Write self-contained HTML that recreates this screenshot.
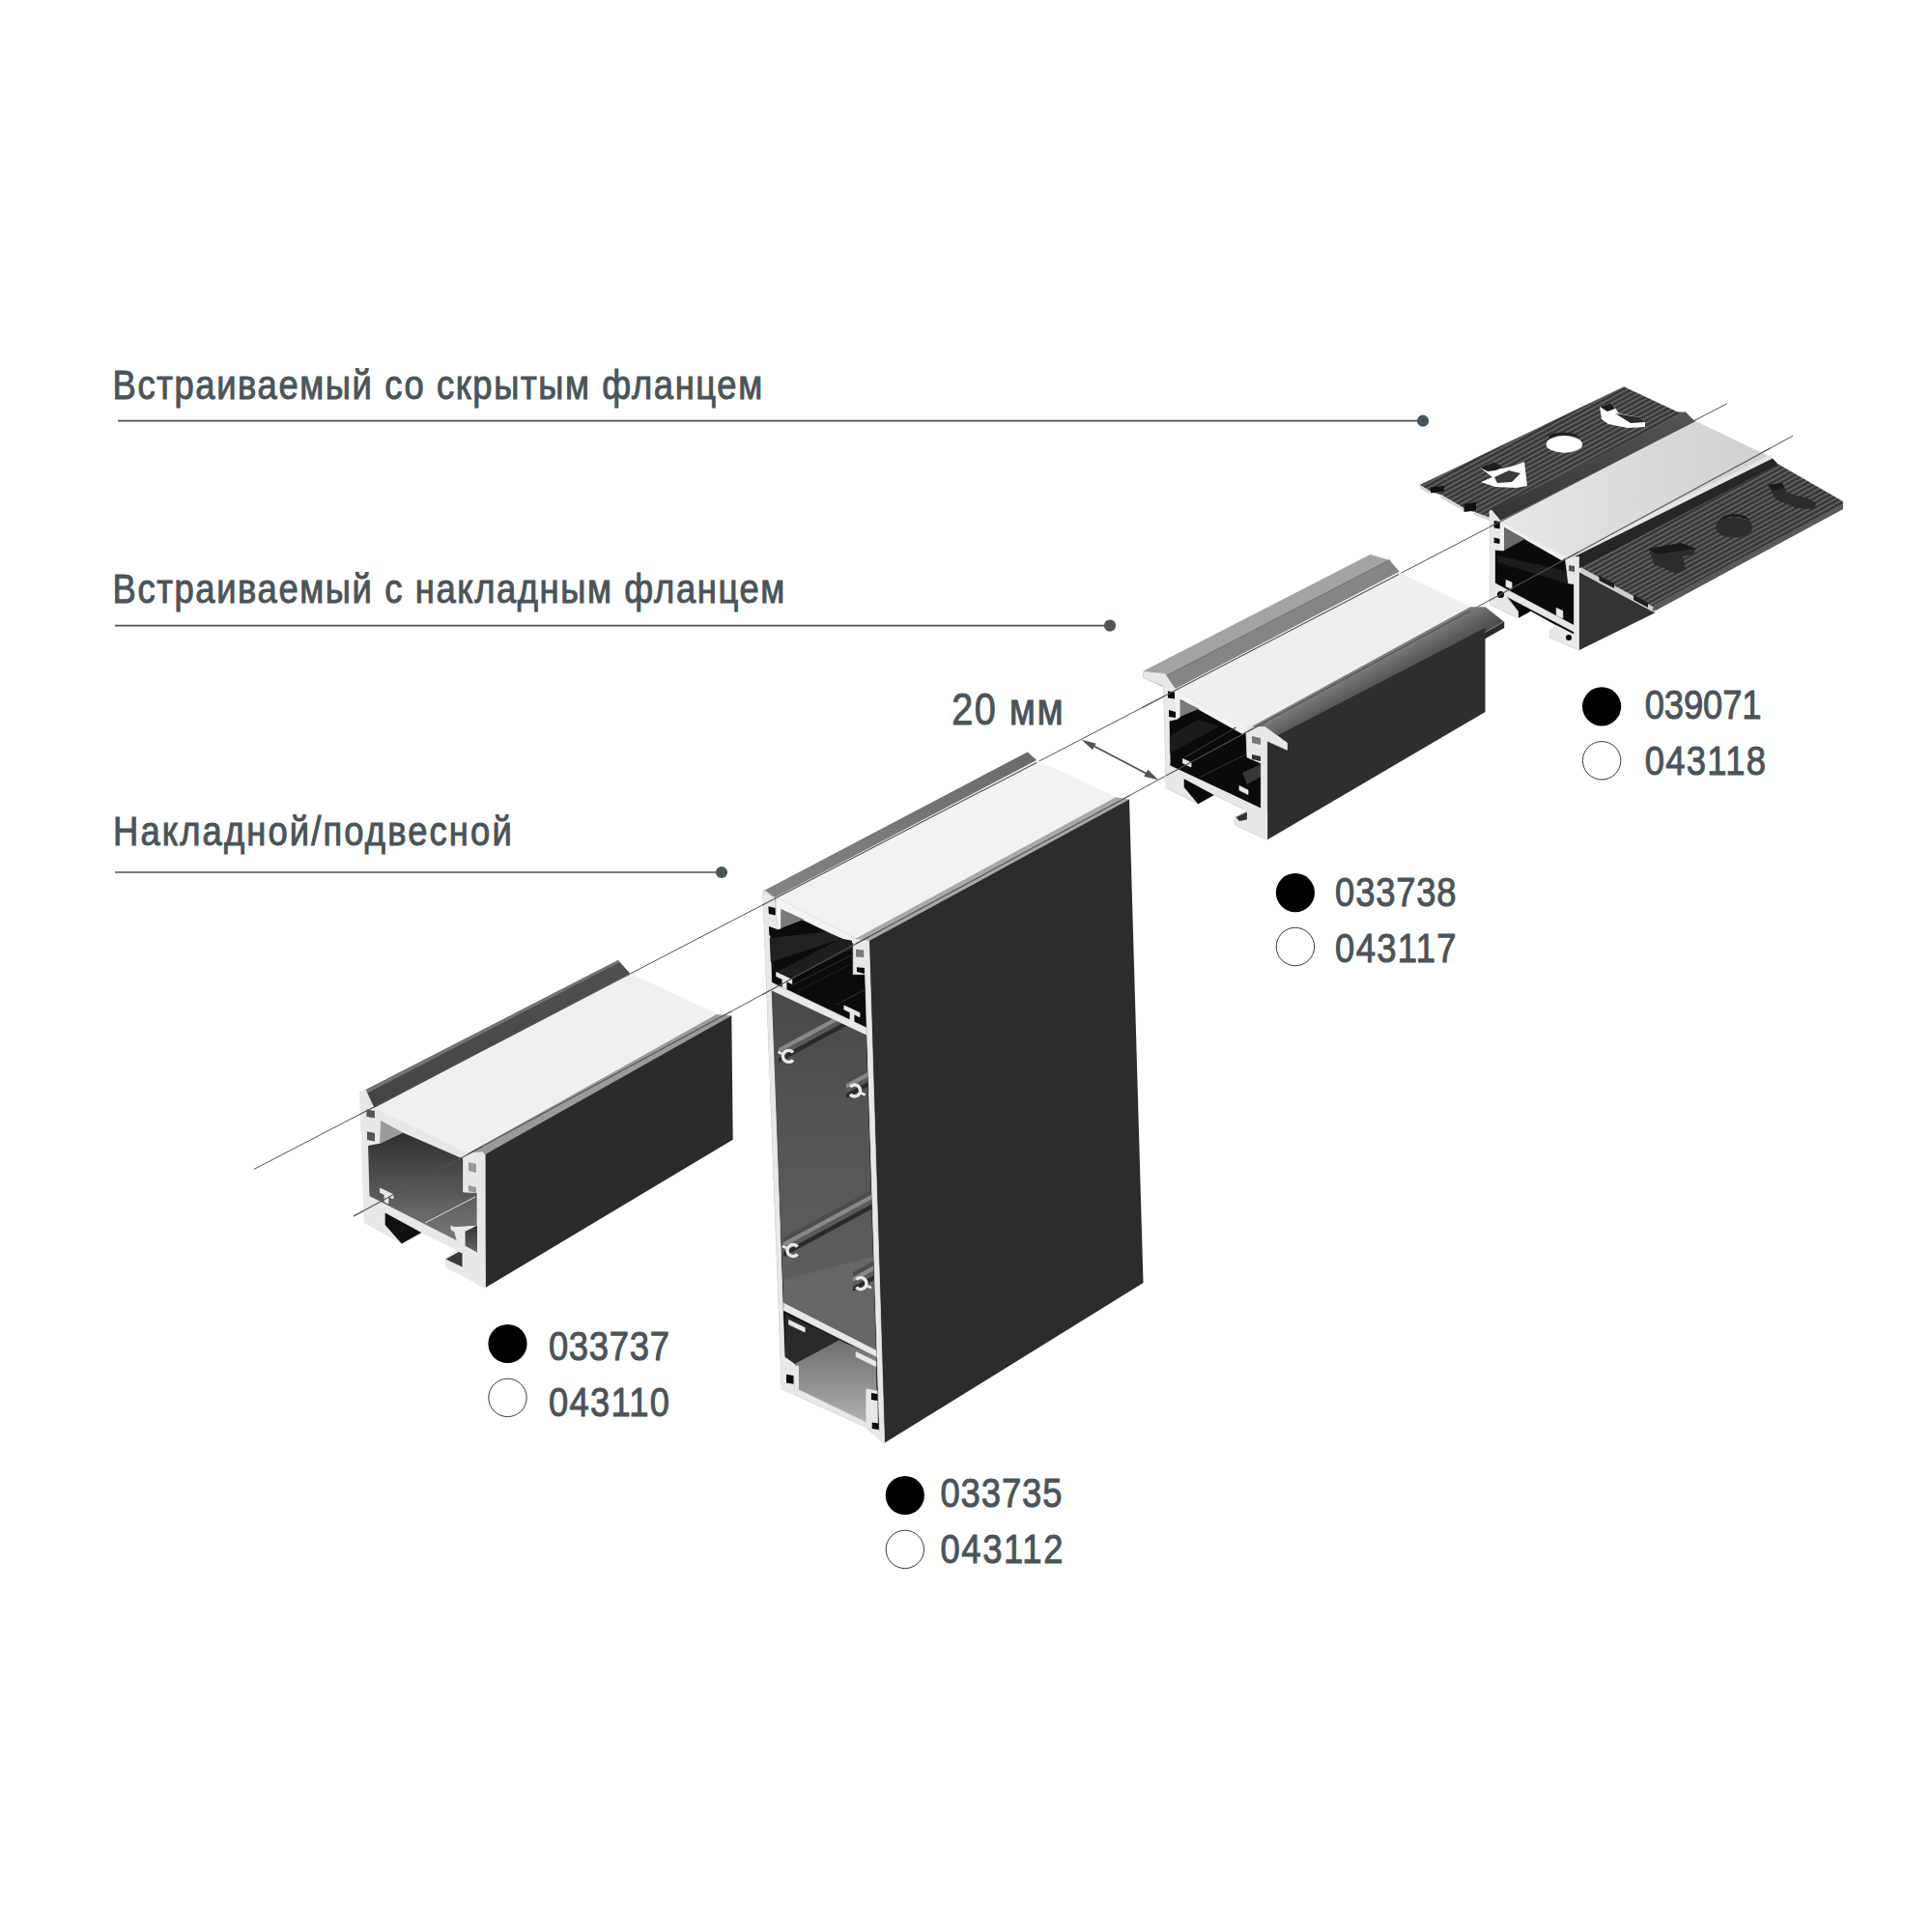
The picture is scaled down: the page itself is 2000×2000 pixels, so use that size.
<!DOCTYPE html>
<html><head><meta charset="utf-8">
<style>
html,body{margin:0;padding:0;background:#fff;}
body{width:2000px;height:2000px;overflow:hidden;position:relative;}
svg{position:absolute;left:0;top:0;}
text{font-family:"Liberation Sans",sans-serif;fill:#4b5459;stroke:#4b5459;stroke-width:1.0px;}
</style></head>
<body>
<svg width="2000" height="2000" viewBox="0 0 2000 2000">
<defs>
<linearGradient id="gFlange" x1="0" y1="0" x2="0" y2="1"><stop offset="0" stop-color="#6a6a6a"/><stop offset="1" stop-color="#848484"/></linearGradient>
<linearGradient id="gMid" x1="0" y1="0" x2="0" y2="1"><stop offset="0" stop-color="#484848"/><stop offset="0.3" stop-color="#525252"/><stop offset="1" stop-color="#626262"/></linearGradient>
<linearGradient id="gLow" x1="0" y1="0" x2="0" y2="1"><stop offset="0" stop-color="#1a1a1a"/><stop offset="0.45" stop-color="#444"/><stop offset="1" stop-color="#b4b4b4"/></linearGradient>
<linearGradient id="gGreyInt" x1="0" y1="0" x2="0" y2="1"><stop offset="0" stop-color="#2e2e2e"/><stop offset="0.5" stop-color="#555"/><stop offset="1" stop-color="#6a6a6a"/></linearGradient>
<linearGradient id="gFlangeM" x1="0" y1="0" x2="1" y2="0"><stop offset="0" stop-color="#9a9a9a"/><stop offset="1" stop-color="#5a5a5a"/></linearGradient>
<linearGradient id="gFlangeR" x1="0" y1="0" x2="1" y2="0"><stop offset="0" stop-color="#8a8a8a"/><stop offset="0.5" stop-color="#5a5a5a"/><stop offset="1" stop-color="#3a3a3a"/></linearGradient>
<linearGradient id="gDiffR" x1="0" y1="0" x2="1" y2="0"><stop offset="0" stop-color="#e6e6e6"/><stop offset="1" stop-color="#d0d0d0"/></linearGradient>
<linearGradient id="gCover" x1="0" y1="0" x2="0" y2="1"><stop offset="0" stop-color="#6e6e6e"/><stop offset="1" stop-color="#b0b0b0"/></linearGradient>
<linearGradient id="gFlangeL" x1="0" y1="0" x2="0" y2="1"><stop offset="0" stop-color="#505050"/><stop offset="1" stop-color="#444444"/></linearGradient>
<linearGradient id="gLip" x1="0" y1="0" x2="0" y2="1"><stop offset="0" stop-color="#555"/><stop offset="1" stop-color="#333"/></linearGradient>
<linearGradient id="gLipR" x1="0" y1="0" x2="0" y2="1"><stop offset="0" stop-color="#cfcfcf"/><stop offset="0.5" stop-color="#3a3a3a"/><stop offset="1" stop-color="#1a1a1a"/></linearGradient>
<linearGradient id="gFloor" x1="0" y1="0" x2="0" y2="1"><stop offset="0" stop-color="#5a5a5a"/><stop offset="1" stop-color="#7a7a7a"/></linearGradient>
<linearGradient id="gNotch" x1="0" y1="0" x2="0" y2="1"><stop offset="0" stop-color="#333"/><stop offset="1" stop-color="#666"/></linearGradient>
<linearGradient id="gFlangeR2" gradientUnits="userSpaceOnUse" x1="1400" y1="695" x2="1415.7" y2="723.4"><stop offset="0" stop-color="#808080"/><stop offset="0.6" stop-color="#5c5c5c"/><stop offset="1" stop-color="#4a4a4a"/></linearGradient>
<pattern id="ribs" patternUnits="userSpaceOnUse" width="6" height="4.4" patternTransform="rotate(-28.5)">
<rect width="6" height="4.4" fill="#363636"/><rect y="0" width="6" height="1.9" fill="#606060"/></pattern>
</defs>
<g id="labels"><text transform="translate(116.60,413.20) scale(0.860,1)" x="0" y="0" font-size="42.3" textLength="782.09" lengthAdjust="spacing">Встраиваемый со скрытым фланцем</text><text transform="translate(116.60,623.60) scale(0.860,1)" x="0" y="0" font-size="42.3" textLength="808.95" lengthAdjust="spacing">Встраиваемый с накладным фланцем</text><text transform="translate(117.10,875.30) scale(0.860,1)" x="0" y="0" font-size="42.3" textLength="479.77" lengthAdjust="spacing">Накладной/подвесной</text><text transform="translate(985.20,750.30) scale(0.860,1)" x="0" y="0" font-size="46.0" textLength="134.42" lengthAdjust="spacing">20 мм</text><line x1="122" y1="435.7" x2="1473" y2="435.7" stroke="#4b5459" stroke-width="1.7"/><circle cx="1473" cy="435.7" r="6.1" fill="#4b5459"/><line x1="119" y1="647.6" x2="1149" y2="647.6" stroke="#4b5459" stroke-width="1.7"/><circle cx="1149" cy="647.6" r="6.1" fill="#4b5459"/><line x1="119" y1="903" x2="747" y2="903" stroke="#4b5459" stroke-width="1.7"/><circle cx="747" cy="903" r="6.1" fill="#4b5459"/></g>
<g id="codes"><circle cx="525.5" cy="1391.0" r="20.1" fill="#000"/><circle cx="525.5" cy="1446.9" r="19.7" fill="#fff" stroke="#3a3a3a" stroke-width="1"/><circle cx="936.8" cy="1548.0" r="20.1" fill="#000"/><circle cx="936.8" cy="1603.9" r="19.7" fill="#fff" stroke="#3a3a3a" stroke-width="1"/><circle cx="1340.9" cy="924.1" r="20.1" fill="#000"/><circle cx="1340.9" cy="980.0" r="19.7" fill="#fff" stroke="#3a3a3a" stroke-width="1"/><circle cx="1658.1" cy="731.4" r="20.1" fill="#000"/><circle cx="1658.1" cy="787.3" r="19.7" fill="#fff" stroke="#3a3a3a" stroke-width="1"/><text transform="translate(567.90,1407.60) scale(0.860,1)" x="0" y="0" font-size="42.3" textLength="145.47" lengthAdjust="spacing">033737</text><text transform="translate(567.90,1465.90) scale(0.860,1)" x="0" y="0" font-size="42.3" textLength="145.47" lengthAdjust="spacing">043110</text><text transform="translate(973.50,1559.60) scale(0.860,1)" x="0" y="0" font-size="42.3" textLength="146.40" lengthAdjust="spacing">033735</text><text transform="translate(973.50,1617.90) scale(0.860,1)" x="0" y="0" font-size="42.3" textLength="147.56" lengthAdjust="spacing">043112</text><text transform="translate(1382.10,937.80) scale(0.860,1)" x="0" y="0" font-size="42.3" textLength="145.93" lengthAdjust="spacing">033738</text><text transform="translate(1382.10,995.90) scale(0.860,1)" x="0" y="0" font-size="42.3" textLength="145.93" lengthAdjust="spacing">043117</text><text transform="translate(1702.70,744.00) scale(0.860,1)" x="0" y="0" font-size="42.3" textLength="140.58" lengthAdjust="spacing">039071</text><text transform="translate(1702.70,802.30) scale(0.860,1)" x="0" y="0" font-size="42.3" textLength="145.70" lengthAdjust="spacing">043118</text></g>
<g id="axis"><line x1="262.6" y1="1210.6" x2="1787.7" y2="417.9" stroke="#4b5459" stroke-width="1"/><line x1="366" y1="1259" x2="1856" y2="451.2" stroke="#4b5459" stroke-width="1"/></g>
<g id="profiles"><g id="right"><polygon points="1469.7,502.0 1681.0,400.2 1737.0,426.6 1744.7,426.6 1755.6,437.5 1553.2,539.1 1551.0,540.0 1525.5,530.0 1515.0,526.0 1491.0,512.0 1480.0,508.5" fill="url(#ribs)"/><polygon points="1544.0,528.0 1744.7,426.6 1755.6,437.5 1553.2,539.1" fill="url(#gLip)"/><polygon points="1553.2,539.1 1755.6,435.9 1833.2,473.2 1623.6,578.0" fill="url(#gDiffR)"/><polygon points="1620.0,576.0 1833.0,470.5 1835.0,474.5 1622.0,580.0" fill="#e4e4e4"/><polygon points="1622.0,580.0 1835.0,474.5 1841.0,481.0 1636.0,588.5" fill="#262626"/><polygon points="1634.4,592.0 1714.0,634.0 1634.4,673.3" fill="#333333"/><polygon points="1636.0,588.0 1841.0,480.5 1907.8,519.0 1907.8,527.0 1714.0,632.0" fill="url(#ribs)"/><polygon points="1636.0,587.0 1714.0,629.5 1714.0,635.0 1636.0,593.0" fill="#cfcfcf"/><polygon points="1655.5,596.0 1671.0,604.0 1671.0,609.0 1655.5,601.0" fill="#1e1e1e"/><polygon points="1691.0,615.5 1706.0,623.5 1706.0,629.0 1691.0,621.0" fill="#1e1e1e"/><polygon points="1469.7,502.0 1480.0,508.0 1480.0,511.5 1469.7,505.5" fill="#d8d8d8"/><polygon points="1481.0,504.5 1495.0,503.0 1495.0,508.5 1481.0,510.5" fill="#111"/><polygon points="1491.0,511.5 1515.0,525.5 1515.0,529.0 1491.0,515.0" fill="#d8d8d8"/><polygon points="1515.5,522.0 1528.0,519.5 1528.0,528.5 1515.5,530.0" fill="#111"/><polygon points="1525.5,529.5 1551.0,539.0 1551.0,542.5 1525.5,533.0" fill="#d8d8d8"/><polygon points="1542.0,529.1 1553.2,539.1 1620.3,577.2 1634.4,576.3 1634.4,673.3 1604.6,660.0 1604.6,652.6 1611.2,647.6 1584.7,632.7 1571.5,640.1 1542.5,626.0" fill="#0a0a0a"/><polygon points="1542.0,529.1 1544.1,528.3 1553.2,539.1 1552.8,569.7 1547.4,568.9 1547.4,603.7 1559.0,617.0 1571.5,633.0 1571.5,640.1 1542.5,626.0" fill="#e8e8e8" stroke="#e8e8e8" stroke-width="0.8" stroke-linejoin="round"/><polygon points="1546.6,539.0 1553.0,540.0 1553.0,547.5 1546.6,546.5" fill="#0a0a0a"/><polygon points="1546.6,556.5 1553.0,558.0 1553.0,563.0 1546.6,562.0" fill="#0a0a0a"/><polygon points="1553.2,539.1 1620.3,577.2 1617.0,580.0 1557.0,545.7 1557.0,569.7 1552.8,569.7" fill="#f0f0f0" stroke="#f0f0f0" stroke-width="0.8" stroke-linejoin="round"/><polygon points="1557.0,545.7 1578.9,558.1 1557.0,569.7" fill="#6a6a6a"/><polygon points="1550.0,575.0 1618.0,590.0 1628.0,600.0 1628.0,606.0 1550.0,582.0" fill="#1c1c1c"/><polygon points="1547.4,603.7 1629.5,647.6 1629.5,654.0 1547.4,611.0" fill="#e8e8e8" stroke="#e8e8e8" stroke-width="0.8" stroke-linejoin="round"/><polygon points="1559.0,600.4 1565.0,603.0 1565.0,610.0 1559.0,607.0" fill="#e8e8e8" stroke="#e8e8e8" stroke-width="0.8" stroke-linejoin="round"/><polygon points="1611.2,629.4 1617.8,632.5 1617.8,640.0 1611.2,637.0" fill="#e8e8e8" stroke="#e8e8e8" stroke-width="0.8" stroke-linejoin="round"/><polygon points="1620.3,577.2 1634.4,576.3 1634.4,673.3 1629.5,670.0 1629.5,604.5 1623.6,603.7" fill="#e8e8e8" stroke="#e8e8e8" stroke-width="0.8" stroke-linejoin="round"/><polygon points="1624.0,585.0 1630.0,586.0 1630.0,592.0 1624.0,591.0" fill="#555"/><polygon points="1604.6,652.6 1611.2,647.6 1629.5,657.0 1634.4,673.3 1604.6,660.0" fill="#e8e8e8" stroke="#e8e8e8" stroke-width="0.8" stroke-linejoin="round"/><circle cx="1553.5" cy="615.5" r="3.6" fill="#0a0a0a"/><circle cx="1624" cy="660" r="3" fill="#0a0a0a"/><ellipse cx="1619.3" cy="459.9" rx="18.8" ry="8.8" fill="#fff"/><path d="M 1601 457 A 18.8 8.8 0 0 1 1638 458 L 1634 452 A 17 7 0 0 0 1604 451 Z" fill="#1e1e1e"/><polygon points="1532.0,484.0 1547.0,478.0 1555.0,485.0 1568.0,482.0 1578.0,478.0 1581.0,503.0 1570.0,505.0 1548.0,504.0 1533.0,499.0 1545.0,494.0" fill="#fff"/><polygon points="1532.0,484.0 1547.0,478.0 1556.0,484.0 1548.0,487.0 1540.0,488.0" fill="#1e1e1e"/><polygon points="1547.0,494.0 1562.0,487.0 1574.0,490.0 1565.0,499.0 1550.0,500.0" fill="#3a3a3a"/><polygon points="1656.0,421.0 1668.0,417.0 1676.0,428.0 1697.0,432.0 1703.0,437.0 1703.0,442.0 1685.0,443.0 1665.0,439.0 1658.0,434.0" fill="#fff"/><polygon points="1656.0,421.0 1668.0,417.0 1672.0,423.0 1664.0,426.0" fill="#1e1e1e"/><polygon points="1672.0,428.0 1697.0,432.0 1703.0,437.0 1688.0,438.0" fill="#2a2a2a"/><ellipse cx="1795.2" cy="546" rx="19" ry="10.5" fill="#2c2c2c"/><path d="M 1777 543 A 19 10.5 0 0 1 1813 541 L 1809 536 A 16 8 0 0 0 1781 537 Z" fill="#1a1a1a"/><polygon points="1707.0,568.0 1740.0,562.0 1756.0,568.0 1752.0,574.0 1742.0,576.0 1745.0,590.0 1735.0,594.0 1722.0,588.0 1712.0,584.0" fill="#2c2c2c"/><polygon points="1707.0,568.0 1740.0,562.0 1756.0,568.0 1740.0,570.0 1716.0,574.0" fill="#1a1a1a"/><polygon points="1830.0,502.0 1845.0,500.0 1850.0,510.0 1872.0,516.0 1880.0,521.0 1878.0,527.0 1860.0,526.0 1838.0,517.0" fill="#2c2c2c"/><polygon points="1830.0,502.0 1845.0,500.0 1847.0,505.0 1836.0,508.0" fill="#1a1a1a"/><polygon points="1710.6,633.1 1907.8,527.0 1907.8,521.3 1712.0,626.0" fill="#5a5a5a"/></g><g id="mid"><polygon points="1183.7,694.5 1418.4,574.1 1438.4,579.7 1206.1,700.1" fill="#a3a3a3"/><polygon points="1206.1,700.1 1438.4,579.7 1448.7,591.8 1216.6,713.2" fill="#858585"/><line x1="1206.1" y1="700.1" x2="1438.4" y2="579.7" stroke="#5e5e5e" stroke-width="0.8"/><polygon points="1217.6,713.2 1448.5,593.0 1522.0,628.3 1292.2,755.7" fill="#efefef" stroke="#efefef" stroke-width="0.8" stroke-linejoin="round"/><polygon points="1292.2,754.0 1522.0,628.3 1537.5,628.3 1557.2,643.8 1333.6,769.1" fill="url(#gFlangeR2)"/><line x1="1333.6" y1="769.1" x2="1557.2" y2="643.8" stroke="#a0a0a0" stroke-width="1.2"/><polygon points="1333.6,769.1 1557.2,643.8 1557.2,650.0 1333.6,776.4" fill="#2a2a2a"/><polygon points="1311.6,767.0 1537.5,650.0 1537.5,737.0 1311.6,869.4" fill="#2e2e2e"/><polygon points="1183.3,695.5 1206.0,697.6 1216.4,713.1 1289.9,756.6 1292.0,752.5 1309.6,752.5 1332.4,769.0 1332.4,776.3 1311.6,767.0 1311.6,869.4 1278.5,853.9 1278.5,845.6 1290.9,839.4 1256.8,822.9 1240.2,832.2 1207.1,815.6 1204.5,711.0 1183.3,701.7" fill="#0a0a0a"/><polygon points="1183.3,695.5 1206.0,697.6 1216.4,713.1 1203.5,710.0 1183.3,701.7" fill="#e8e8e8" stroke="#e8e8e8" stroke-width="0.8" stroke-linejoin="round"/><polygon points="1203.5,709.0 1216.4,713.1 1218.5,744.2 1210.2,746.3 1211.2,789.7 1207.1,815.6 1204.5,711.0" fill="#e8e8e8" stroke="#e8e8e8" stroke-width="0.8" stroke-linejoin="round"/><polygon points="1209.0,715.5 1216.0,716.5 1216.0,723.5 1209.0,722.5" fill="#0a0a0a"/><polygon points="1210.0,735.0 1217.0,737.0 1217.0,743.0 1210.0,742.0" fill="#0a0a0a"/><polygon points="1216.4,713.1 1289.9,756.6 1287.0,760.0 1221.6,723.5 1221.6,742.1 1218.5,744.2" fill="#f2f2f2" stroke="#f2f2f2" stroke-width="0.8" stroke-linejoin="round"/><polygon points="1221.6,724.5 1241.3,733.8 1221.6,742.1" fill="#7a7a7a"/><polygon points="1211.0,762.0 1240.0,745.0 1262.0,752.0 1211.0,780.0" fill="#1c1c1c"/><line x1="1226.7" y1="784" x2="1279.5" y2="753" stroke="#333" stroke-width="1.2"/><line x1="1242.3" y1="804.5" x2="1292" y2="779.7" stroke="#2c2c2c" stroke-width="1.2"/><polygon points="1286.0,800.0 1305.5,791.0 1305.5,804.0 1291.0,812.0" fill="#383838"/><polygon points="1207.5,791.0 1305.4,837.0 1311.6,840.0 1311.6,869.4 1278.5,853.9 1278.5,845.6 1290.9,839.4 1256.8,822.9 1240.2,832.2 1207.1,815.6" fill="#e8e8e8" stroke="#e8e8e8" stroke-width="0.8" stroke-linejoin="round"/><polygon points="1225.7,806.3 1256.8,822.9 1240.2,832.2 1225.7,815.0" fill="#0a0a0a"/><polygon points="1224.5,785.5 1233.0,789.5 1233.0,794.0 1224.5,790.0" fill="#e8e8e8" stroke="#e8e8e8" stroke-width="0.8" stroke-linejoin="round"/><polygon points="1283.0,813.5 1292.0,818.0 1292.0,822.5 1283.0,818.0" fill="#e8e8e8" stroke="#e8e8e8" stroke-width="0.8" stroke-linejoin="round"/><polygon points="1289.9,756.6 1292.0,752.5 1309.6,752.5 1332.4,769.0 1332.4,776.3 1311.6,767.0 1311.6,869.4 1305.4,866.0 1305.4,790.0 1291.0,784.0" fill="#e8e8e8" stroke="#e8e8e8" stroke-width="0.8" stroke-linejoin="round"/><polygon points="1296.0,762.0 1305.0,764.0 1305.0,771.0 1296.0,769.0" fill="#777"/><polygon points="1296.0,781.0 1305.0,783.0 1305.0,788.0 1296.0,786.0" fill="#333"/><polygon points="1279.5,846.0 1290.9,840.5 1290.9,848.5 1283.0,850.0" fill="#333"/></g><g id="big"><polygon points="789.8,922.5 1063.7,778.5 1073.5,787.2 803.1,929.5" fill="url(#gFlange)"/><polygon points="803.1,929.0 1073.5,787.2 1155.0,825.2 885.9,971.4" fill="#f2f2f2" stroke="#f2f2f2" stroke-width="0.8" stroke-linejoin="round"/><polygon points="885.9,971.4 1155.0,825.2 1169.0,827.4 899.6,974.1" fill="#a8a8a8"/><polygon points="899.6,974.1 1169.0,827.4 1183.5,1328.1 915.6,1493.7" fill="#2c2c2c"/><polygon points="789.7,923.8 792.3,922.3 802.1,930.0 803.1,929.0 885.9,971.4 899.6,974.1 915.6,1493.7 901.9,1482.4 896.9,1477.5 823.2,1444.3 822.4,1437.7 809.1,1438.6" fill="#0b0b0b"/><polygon points="803.1,929.0 885.9,971.4 881.8,976.6 808.3,940.9 808.3,961.1 804.7,962.1" fill="#f4f4f4" stroke="#f4f4f4" stroke-width="0.8" stroke-linejoin="round"/><polygon points="808.3,940.9 832.1,951.8 808.3,961.1" fill="#7a7a7a"/><polygon points="789.7,923.8 792.3,922.3 802.1,930.0 804.7,962.1 797.0,968.0 797.8,990.0 813.3,1437.7 809.1,1438.6" fill="#e8e8e8" stroke="#e8e8e8" stroke-width="0.8" stroke-linejoin="round"/><polygon points="795.4,938.3 802.6,940.0 802.8,947.6 795.8,946.0" fill="#0b0b0b"/><polygon points="795.9,959.0 804.7,962.0 804.7,973.5 796.3,968.0" fill="#0b0b0b"/><polygon points="881.8,971.4 899.6,974.1 915.6,1493.7 910.7,1490.0 895.6,1008.6 883.2,1008.6 883.2,976.0" fill="#e8e8e8" stroke="#e8e8e8" stroke-width="0.8" stroke-linejoin="round"/><polygon points="886.0,982.8 894.2,983.5 894.2,991.1 886.0,990.4" fill="#7a7a7a"/><polygon points="886.8,1001.2 895.0,1002.0 895.0,1008.0 887.0,1006.0" fill="#0b0b0b"/><polygon points="796.7,971.0 854.8,964.7 872.0,971.5 797.8,996.0" fill="#222222"/><polygon points="804.1,1006.3 870.7,971.5 882.0,973.8 882.0,982.3 818.9,1013.1" fill="#1e1e1e"/><line x1="820" y1="1020" x2="883" y2="988" stroke="#262626" stroke-width="1.3"/><line x1="826" y1="1026" x2="883" y2="997" stroke="#222" stroke-width="1"/><line x1="866" y1="1040" x2="896" y2="1024" stroke="#2a2a2a" stroke-width="1.2"/><polygon points="797.8,1016.7 896.8,1063.9 896.8,1071.4 798.7,1025.4" fill="#e8e8e8" stroke="#e8e8e8" stroke-width="0.8" stroke-linejoin="round"/><polygon points="803.7,1006.5 819.8,1014.2 819.8,1018.4 803.7,1010.7" fill="#e8e8e8" stroke="#e8e8e8" stroke-width="0.8" stroke-linejoin="round"/><polygon points="810.0,1010.0 814.0,1012.0 814.0,1024.0 810.0,1022.0" fill="#e8e8e8" stroke="#e8e8e8" stroke-width="0.8" stroke-linejoin="round"/><polygon points="873.9,1040.9 890.0,1048.6 890.0,1052.8 873.9,1045.1" fill="#e8e8e8" stroke="#e8e8e8" stroke-width="0.8" stroke-linejoin="round"/><polygon points="880.0,1044.0 884.0,1046.0 884.0,1058.0 880.0,1056.0" fill="#e8e8e8" stroke="#e8e8e8" stroke-width="0.8" stroke-linejoin="round"/><polygon points="798.7,1025.4 896.8,1071.4 906.8,1398.0 811.2,1349.1" fill="url(#gMid)"/><clipPath id="cpMid"><polygon points="798.7,1025.4 896.8,1071.4 906.8,1398 811.2,1349.1"/></clipPath><g clip-path="url(#cpMid)"><polygon points="811.0,1325.0 906.0,1300.0 906.8,1398.0 811.2,1349.1" fill="#666666"/><polygon points="806.0,1080.0 910.0,1023.8 910.0,1028.8 806.0,1085.0" fill="#4c4c4c"/><polygon points="806.0,1085.0 910.0,1028.8 910.0,1033.8 806.0,1090.0" fill="#888888"/><polygon points="806.0,1090.0 910.0,1033.8 910.0,1038.8 806.0,1095.0" fill="#5a5a5a"/><polygon points="806.0,1095.0 910.0,1038.8 910.0,1043.8 806.0,1100.0" fill="#2a2a2a"/><polygon points="876.0,1117.0 910.0,1098.6 910.0,1103.6 876.0,1122.0" fill="#4c4c4c"/><polygon points="876.0,1122.0 910.0,1103.6 910.0,1108.6 876.0,1127.0" fill="#888888"/><polygon points="876.0,1127.0 910.0,1108.6 910.0,1113.6 876.0,1132.0" fill="#5a5a5a"/><polygon points="876.0,1132.0 910.0,1113.6 910.0,1118.6 876.0,1137.0" fill="#2a2a2a"/><polygon points="811.0,1281.0 912.0,1226.5 912.0,1231.5 811.0,1286.0" fill="#4c4c4c"/><polygon points="811.0,1286.0 912.0,1231.5 912.0,1236.5 811.0,1291.0" fill="#888888"/><polygon points="811.0,1291.0 912.0,1236.5 912.0,1241.5 811.0,1296.0" fill="#5a5a5a"/><polygon points="811.0,1296.0 912.0,1241.5 912.0,1246.5 811.0,1301.0" fill="#2a2a2a"/><polygon points="883.0,1317.0 912.0,1301.3 912.0,1306.3 883.0,1322.0" fill="#4c4c4c"/><polygon points="883.0,1322.0 912.0,1306.3 912.0,1311.3 883.0,1327.0" fill="#888888"/><polygon points="883.0,1327.0 912.0,1311.3 912.0,1316.3 883.0,1332.0" fill="#5a5a5a"/><polygon points="883.0,1332.0 912.0,1316.3 912.0,1321.3 883.0,1337.0" fill="#2a2a2a"/></g><path d="M 821.0 1089.5 A 6.0 6.0 0 1 0 821.0 1097.3" fill="none" stroke="#e8e8e8" stroke-width="3.4"/><line x1="810.9" y1="1091.4" x2="805.4" y2="1088.9" stroke="#e8e8e8" stroke-width="2.6"/><path d="M 880.1 1125.1 A 6.0 6.0 0 1 1 880.1 1132.9" fill="none" stroke="#e8e8e8" stroke-width="3.4"/><line x1="890.2" y1="1131.0" x2="895.7" y2="1133.5" stroke="#e8e8e8" stroke-width="2.6"/><path d="M 825.6 1290.6 A 6.0 6.0 0 1 0 825.6 1298.4" fill="none" stroke="#e8e8e8" stroke-width="3.4"/><line x1="815.5" y1="1292.5" x2="810.0" y2="1290.0" stroke="#e8e8e8" stroke-width="2.6"/><path d="M 886.4 1324.7 A 6.0 6.0 0 1 1 886.4 1332.5" fill="none" stroke="#e8e8e8" stroke-width="3.4"/><line x1="896.5" y1="1330.6" x2="902.0" y2="1333.1" stroke="#e8e8e8" stroke-width="2.6"/><polygon points="811.2,1349.1 906.8,1398.0 907.2,1404.6 811.6,1356.6" fill="#e8e8e8" stroke="#e8e8e8" stroke-width="0.8" stroke-linejoin="round"/><polygon points="813.0,1360.0 870.0,1387.0 822.0,1413.0 813.0,1410.0" fill="#2a2a2a"/><polygon points="820.7,1412.9 868.7,1387.2 907.0,1404.6 908.0,1470.0 896.9,1472.5 826.5,1438.6" fill="url(#gCover)"/><polygon points="822.4,1414.0 826.5,1414.0 826.5,1438.6 896.9,1472.5 896.9,1477.5 823.2,1444.3" fill="#e8e8e8" stroke="#e8e8e8" stroke-width="0.8" stroke-linejoin="round"/><polygon points="816.6,1366.5 833.1,1374.4 833.1,1378.9 816.6,1371.0" fill="#e8e8e8" stroke="#e8e8e8" stroke-width="0.8" stroke-linejoin="round"/><polygon points="886.1,1399.6 906.8,1409.6 906.8,1414.5 886.1,1404.5" fill="#e8e8e8" stroke="#e8e8e8" stroke-width="0.8" stroke-linejoin="round"/><polygon points="809.1,1438.6 812.4,1405.0 822.4,1412.0 822.4,1437.7 823.2,1444.3" fill="#e8e8e8" stroke="#e8e8e8" stroke-width="0.8" stroke-linejoin="round"/><polygon points="814.0,1422.8 821.5,1424.0 821.5,1432.8 814.0,1431.5" fill="#0b0b0b"/><polygon points="896.9,1438.0 908.0,1440.0 908.5,1478.0 916.0,1495.7 901.9,1482.4 896.9,1477.5" fill="#e8e8e8" stroke="#e8e8e8" stroke-width="0.8" stroke-linejoin="round"/><polygon points="901.9,1441.9 908.5,1443.0 908.5,1450.1 901.9,1449.0" fill="#0b0b0b"/><polygon points="902.7,1472.5 909.3,1473.5 909.3,1480.0 902.7,1479.0" fill="#0b0b0b"/></g><g id="left"><polygon points="373.0,1131.0 639.9,994.0 652.5,1008.0 387.3,1147.3" fill="url(#gFlangeL)"/><polygon points="373.0,1131.0 639.9,994.0 641.5,996.0 377.5,1133.0" fill="#747474"/><polygon points="387.0,1147.7 652.5,1008.0 741.9,1049.9 484.8,1193.8" fill="#f0f0f0" stroke="#f0f0f0" stroke-width="0.8" stroke-linejoin="round"/><polygon points="484.8,1193.8 741.9,1049.9 757.3,1051.3 503.0,1195.2" fill="#9a9a9a"/><polygon points="502.1,1195.2 757.3,1051.3 758.7,1179.8 502.1,1333.2" fill="#2b2b2b"/><polygon points="372.5,1131.4 378.2,1128.0 387.3,1147.3 484.1,1194.0 500.1,1192.9 502.3,1333.2 461.1,1311.5 461.1,1302.8 472.9,1293.5 436.3,1276.0 415.8,1287.4 377.1,1265.8" fill="#e8e8e8" stroke="#e8e8e8" stroke-width="0.8" stroke-linejoin="round"/><polygon points="381.1,1186.0 393.0,1183.8 417.0,1172.4 479.6,1199.7 494.0,1201.0 494.0,1268.6 468.6,1269.9 472.9,1285.4 382.5,1239.5" fill="url(#gGreyInt)"/><polygon points="394.2,1159.9 417.0,1172.4 393.0,1183.8" fill="#9a9a9a"/><polygon points="404.0,1236.0 494.0,1238.0 494.0,1268.6 468.6,1269.9 472.9,1285.4 406.0,1252.0" fill="url(#gFloor)"/><line x1="440" y1="1266" x2="492" y2="1239" stroke="#e0e0e0" stroke-width="1"/><polygon points="382.5,1238.5 472.9,1284.6 472.9,1293.5 382.5,1247.5" fill="#e8e8e8" stroke="#e8e8e8" stroke-width="0.8" stroke-linejoin="round"/><polygon points="393.5,1230.0 407.0,1236.5 407.0,1241.0 393.5,1234.5" fill="#e8e8e8" stroke="#e8e8e8" stroke-width="0.8" stroke-linejoin="round"/><polygon points="398.0,1233.0 402.0,1235.0 402.0,1246.0 398.0,1244.0" fill="#e8e8e8" stroke="#e8e8e8" stroke-width="0.8" stroke-linejoin="round"/><polygon points="467.0,1269.0 483.0,1276.5 483.0,1280.5 467.0,1273.0" fill="#e8e8e8" stroke="#e8e8e8" stroke-width="0.8" stroke-linejoin="round"/><polygon points="473.5,1272.0 481.6,1276.0 481.6,1311.0 473.5,1307.0" fill="#e8e8e8" stroke="#e8e8e8" stroke-width="0.8" stroke-linejoin="round"/><polygon points="494.0,1195.0 502.1,1195.2 502.3,1333.2 494.0,1329.0" fill="#e8e8e8" stroke="#e8e8e8" stroke-width="0.8" stroke-linejoin="round"/><polygon points="479.6,1195.0 500.0,1193.0 500.0,1235.0 479.6,1233.9" fill="#e8e8e8" stroke="#e8e8e8" stroke-width="0.8" stroke-linejoin="round"/><polygon points="485.0,1203.0 493.0,1205.0 493.0,1214.0 485.0,1212.0" fill="#9a9a9a"/><polygon points="485.0,1227.0 493.0,1229.0 493.0,1235.0 485.0,1233.0" fill="#9a9a9a"/><polygon points="481.6,1274.8 494.0,1268.6 494.0,1296.6 481.6,1289.8" fill="url(#gNotch)"/><polygon points="379.4,1148.5 387.9,1150.0 387.9,1157.6 379.4,1156.0" fill="#555"/><polygon points="380.0,1171.3 388.0,1173.0 388.0,1181.5 380.0,1180.0" fill="#555"/><polygon points="398.7,1255.5 436.3,1276.0 415.8,1287.4 398.7,1268.0" fill="#111"/><polygon points="461.5,1303.4 474.8,1296.0 478.5,1297.2 478.5,1311.5" fill="#3a3a3a"/></g><line x1="372.0" y1="1153.7" x2="388.0" y2="1145.4" stroke="#4b5459" stroke-width="1.1"/><line x1="366.0" y1="1259.0" x2="500.0" y2="1186.4" stroke="#4b5459" stroke-width="1.1"/><line x1="789.0" y1="937.0" x2="803.0" y2="929.7" stroke="#4b5459" stroke-width="1.1"/><line x1="789.0" y1="1029.7" x2="900.0" y2="969.5" stroke="#4b5459" stroke-width="1.1"/><line x1="1183.0" y1="732.2" x2="1217.0" y2="714.5" stroke="#4b5459" stroke-width="1.1"/><line x1="1207.0" y1="803.1" x2="1312.0" y2="746.2" stroke="#4b5459" stroke-width="1.1"/><line x1="1542.0" y1="545.6" x2="1553.0" y2="539.9" stroke="#4b5459" stroke-width="1.1"/><line x1="1542.0" y1="621.5" x2="1634.0" y2="571.6" stroke="#4b5459" stroke-width="1.1"/><line x1="387.0" y1="1145.9" x2="652.0" y2="1008.2" stroke="#4b5459" stroke-width="1.1"/><line x1="484.0" y1="1195.0" x2="757.0" y2="1047.0" stroke="#4b5459" stroke-width="1.1"/><line x1="803.0" y1="929.7" x2="1073.0" y2="789.4" stroke="#4b5459" stroke-width="1.1"/><line x1="886.0" y1="977.1" x2="1169.0" y2="823.7" stroke="#4b5459" stroke-width="1.1"/><line x1="1217.0" y1="714.5" x2="1448.0" y2="594.4" stroke="#4b5459" stroke-width="1.1"/><line x1="1292.0" y1="757.0" x2="1522.0" y2="632.3" stroke="#4b5459" stroke-width="1.1"/><line x1="1553.0" y1="539.9" x2="1755.0" y2="434.9" stroke="#4b5459" stroke-width="1.1"/><line x1="1623.0" y1="577.6" x2="1833.0" y2="463.7" stroke="#4b5459" stroke-width="1.1"/><line x1="1128" y1="770" x2="1191" y2="803" stroke="#4b5459" stroke-width="1.8"/><polygon points="1119.6,765.8 1134.8,769.8 1132.6,772.8 1131.1,776.3" fill="#4b5459"/><polygon points="1199.4,807.4 1188.2,796.8 1186.2,800.4 1184.2,803.7" fill="#4b5459"/></g>
</svg>
</body></html>
